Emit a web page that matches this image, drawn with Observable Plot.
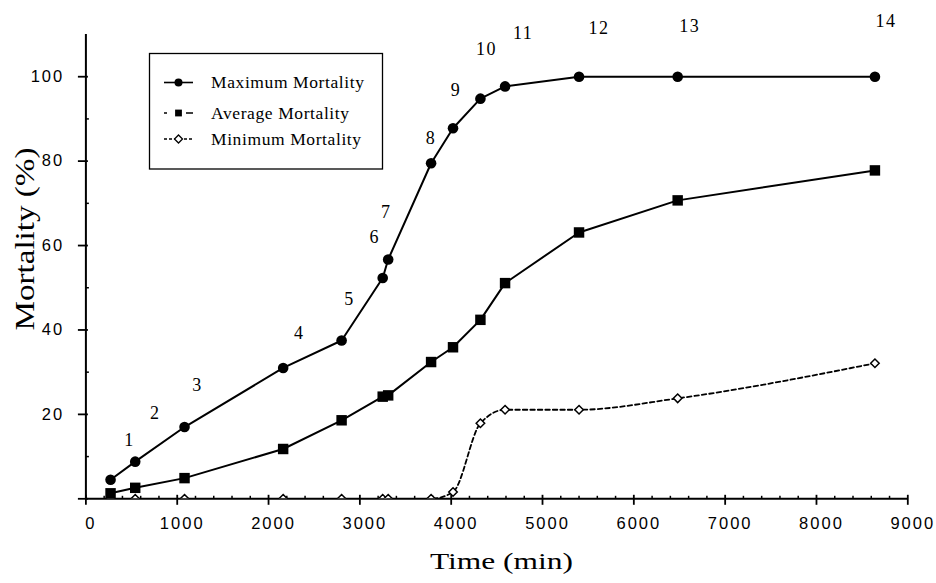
<!DOCTYPE html>
<html>
<head>
<meta charset="utf-8">
<script src="https://cdn.jsdelivr.net/npm/d3@7"></script>
<script src="https://cdn.jsdelivr.net/npm/@observablehq/plot@0.6"></script>
<style>
  html, body { margin: 0; padding: 0; background: #fff; }
  #chart svg { display: block; }
</style>
</head>
<body>
<div id="chart"></div>
<script>
// Sampling times (min) and mortality (%) for the 14 samples
const times = [270, 540, 1080, 2160, 2800, 3250, 3310, 3780, 4020, 4320, 4590, 5400, 6480, 8640];
const maxMortality = [4.5, 8.8, 17.0, 31.0, 37.5, 52.3, 56.7, 79.5, 87.8, 94.8, 97.7, 100, 100, 100];
const avgMortality = [1.3, 2.6, 4.9, 11.8, 18.6, 24.2, 24.5, 32.4, 35.9, 42.4, 51.1, 63.1, 70.7, 77.8];
const minMortality = [0, 0, 0, 0, 0, 0, 0, 0, 1.6, 17.9, 21.1, 21.1, 23.8, 32.1];
const sampleLabels = ["1", "2", "3", "4", "5", "6", "7", "8", "9", "10", "11", "12", "13", "14"];

const xTicks = [0, 1000, 2000, 3000, 4000, 5000, 6000, 7000, 8000, 9000];
const xMinorTicks = d3.range(0, 9001, 200).filter(v => v % 1000 !== 0);
const yTicks = [20, 40, 60, 80, 100];
const yMajorTicks = [0, 20, 40, 60, 80, 100];
const yMinorTicks = [10, 30, 50, 70, 90];

const seriesNames = ["Maximum Mortality", "Average Mortality", "Minimum Mortality"];
const xTitle = "Time (min)";
const yTitle = "Mortality (%)";

const rows = times.map((t, i) => ({
  time: t, max: maxMortality[i], avg: avgMortality[i], min: minMortality[i], label: sampleLabels[i]
}));

const SERIF = "'Liberation Serif', 'Times New Roman', serif";
const SANS = "'Liberation Sans', Arial, sans-serif";

// short tick segments drawn as custom dot symbols (lengths in px)
const vSeg = (up, down) => ({draw(ctx) { ctx.moveTo(0, -up); ctx.lineTo(0, down); }});
const hSeg = (left, right) => ({draw(ctx) { ctx.moveTo(-left, 0); ctx.lineTo(right, 0); }});

// per-label placement of the sample numbers relative to their points
const labelNudge = [[19,-40],[20,-48],[13,-42],[16,-35],[8,-41],[-8,-41],[-2,-47],[0,-25],[3,-38],[6,-49],[18,-53],[20,-48],[12,-50],[11,-55]];

const chart = Plot.plot({
  width: 936,
  height: 583,
  marginLeft: 85.4,
  marginRight: 28.7,
  marginTop: 34,
  marginBottom: 84.7,
  x: {domain: [0, 9000], axis: null},
  y: {domain: [0, 110], axis: null},
  style: {background: "white", color: "black", fontFamily: SANS},
  marks: [
    // minimum: dotted smooth curve
    Plot.line(rows, {x: "time", y: "min", curve: "monotone-x", stroke: "black",
      strokeWidth: 1.8, strokeDasharray: "4.5,3", clip: true}),
    Plot.line(rows, {x: "time", y: "avg", stroke: "black", strokeWidth: 2}),
    Plot.line(rows, {x: "time", y: "max", stroke: "black", strokeWidth: 2}),

    // axes
    Plot.ruleY([0], {stroke: "black", strokeWidth: 2}),
    Plot.ruleX([0], {stroke: "black", strokeWidth: 2}),
    Plot.dot(xTicks, {x: d => d, y: () => 0, symbol: vSeg(4, 6), stroke: "black", fill: "none", strokeWidth: 1.8}),
    Plot.dot(xMinorTicks, {x: d => d, y: () => 0, symbol: vSeg(3, 0), stroke: "black", fill: "none", strokeWidth: 1.5}),
    Plot.dot(yMajorTicks, {x: () => 0, y: d => d, symbol: hSeg(8, 2), stroke: "black", fill: "none", strokeWidth: 1.8}),
    Plot.dot(yMinorTicks, {x: () => 0, y: d => d, symbol: hSeg(0, 3), stroke: "black", fill: "none", strokeWidth: 1.5}),
    Plot.text(xTicks, {x: d => d, y: () => 0, text: d => String(d), dy: 24.7, dx: 5,
      fontFamily: SANS, fontSize: 16.5, textAnchor: "middle", lineAnchor: "middle", className: "ticklab"}),
    Plot.text(yTicks, {x: () => 0, y: d => d, text: d => String(d), dx: -21.7,
      fontFamily: SANS, fontSize: 16.5, textAnchor: "end", lineAnchor: "middle", className: "ticklab"}),

    // markers
    Plot.dot(rows, {x: "time", y: "min", symbol: "diamond2", r: 3.83, fill: "white",
      stroke: "black", strokeWidth: 1.5, clip: true}),
    Plot.dot(rows, {x: "time", y: "avg", symbol: "square", r: 5.9, fill: "black", stroke: "none"}),
    Plot.dot(rows, {x: "time", y: "max", symbol: "circle", r: 5.3, fill: "black", stroke: "none"}),

    // sample numbers above the maximum curve
    ...rows.map((d, i) => Plot.text([d], {x: "time", y: "max", text: "label",
      dx: labelNudge[i][0], dy: labelNudge[i][1], fontFamily: SERIF, fontSize: 18,
      textAnchor: "middle", lineAnchor: "middle", className: "numlab"})),

    // axis titles
    Plot.text([xTitle], {frameAnchor: "bottom", dx: 4.6, dy: 62.3, fontFamily: SERIF,
      fontSize: 24, textAnchor: "middle", lineAnchor: "middle", className: "xtitle"}),
    Plot.text([yTitle], {frameAnchor: "left", rotate: -90, dx: -60.5, dy: -27.6, fontFamily: SERIF,
      fontSize: 27, textAnchor: "middle", lineAnchor: "middle", className: "ytitle"})
  ]
});

document.getElementById("chart").appendChild(chart);

const svg = d3.select(chart);
svg.selectAll(".ticklab text").style("letter-spacing", "2px");
svg.selectAll(".numlab text").style("letter-spacing", "1.5px");
svg.selectAll(".xtitle text").attr("textLength", 143).attr("lengthAdjust", "spacingAndGlyphs");
svg.selectAll(".ytitle text").attr("textLength", 183).attr("lengthAdjust", "spacingAndGlyphs");

// legend box
const lg = svg.append("g").attr("class", "legend");
lg.append("rect").attr("x", 149.5).attr("y", 53.5).attr("width", 233).attr("height", 115.5)
  .attr("fill", "white").attr("stroke", "black").attr("stroke-width", 1.3);

const rowY = [82.5, 113, 139];
const textY = [88.3, 118.8, 144.8];
const sx = 178.5;

// maximum: solid line + filled circle
lg.append("line").attr("x1", 164).attr("x2", 193).attr("y1", rowY[0]).attr("y2", rowY[0])
  .attr("stroke", "black").attr("stroke-width", 1.6);
lg.append("circle").attr("cx", sx).attr("cy", rowY[0]).attr("r", 4).attr("fill", "black");

// average: dashed line + filled square
lg.append("line").attr("x1", 164).attr("x2", 193).attr("y1", rowY[1]).attr("y2", rowY[1])
  .attr("stroke", "black").attr("stroke-width", 1.6).attr("stroke-dasharray", "3,4,0,15,7");
lg.append("rect").attr("x", sx - 3.4).attr("y", rowY[1] - 3.4).attr("width", 6.8).attr("height", 6.8).attr("fill", "black");

// minimum: dotted line + open diamond
lg.append("line").attr("x1", 164).attr("x2", 193).attr("y1", rowY[2]).attr("y2", rowY[2])
  .attr("stroke", "black").attr("stroke-width", 1.5).attr("stroke-dasharray", "3,2");
lg.append("path")
  .attr("d", `M${sx},${rowY[2] - 4}L${sx + 4},${rowY[2]}L${sx},${rowY[2] + 4}L${sx - 4},${rowY[2]}Z`)
  .attr("fill", "white").attr("stroke", "black").attr("stroke-width", 1.3);

seriesNames.forEach((name, i) => {
  lg.append("text").attr("x", 211).attr("y", textY[i])
    .attr("text-anchor", "start")
    .style("font-family", SERIF).style("font-size", "17.5px").style("letter-spacing", "0.6px")
    .attr("fill", "black").text(name);
});
</script>
</body>
</html>
